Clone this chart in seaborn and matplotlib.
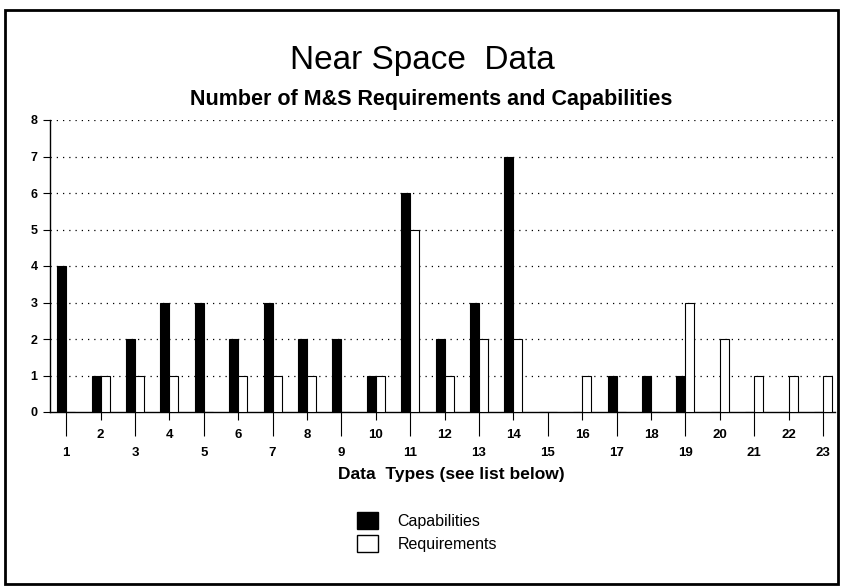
import numpy as np
import pandas as pd
import matplotlib
matplotlib.use("Agg")
import matplotlib.pyplot as plt
from matplotlib.patches import Patch, Rectangle
import seaborn as sns

# Data
data_types = [str(i) for i in range(1, 24)]
capabilities = [4, 1, 2, 3, 3, 2, 3, 2, 2, 1, 6, 2, 3, 7, 0, 0, 1, 1, 1, 0, 0, 0, 0]
requirements = [0, 1, 1, 1, 0, 1, 1, 1, 0, 1, 5, 1, 2, 2, 0, 1, 0, 0, 3, 2, 1, 1, 1]
series_names = ["Capabilities", "Requirements"]
y_ticks = list(range(0, 9))

df = pd.DataFrame({
    "type": data_types * 2,
    "series": [series_names[0]] * len(data_types) + [series_names[1]] * len(data_types),
    "count": capabilities + requirements,
})

sns.set_style("white")
plt.rcParams["font.family"] = ["Liberation Sans", "DejaVu Sans"]
plt.rcParams["text.color"] = "black"
plt.rcParams["xtick.color"] = "black"
plt.rcParams["ytick.color"] = "black"

fig = plt.figure(figsize=(8.44, 5.88), dpi=100)
ax = fig.add_axes([50 / 844, 1 - 412 / 588, 785 / 844, 292 / 588])

sns.barplot(data=df, x="type", y="count", hue="series", hue_order=series_names,
            order=data_types, palette=["black", "white"], edgecolor="black",
            linewidth=0.8, width=0.52, dodge=True, legend=False, ax=ax, zorder=3)

ax.set_ylim(0, 8)
ax.set_xlim(-0.47, 22.35)
ax.set_yticks(y_ticks)
ax.set_yticklabels([str(v) for v in y_ticks], fontsize=9, fontweight="bold")
ax.tick_params(axis="y", length=5, width=0.8, direction="out", left=True, pad=4)

# gridlines, dotted
for v in y_ticks[1:]:
    ax.axhline(v, color="black", linestyle=(0, (1, 4)), linewidth=0.9, zorder=1)

# staggered x tick labels: odd numbers low, even numbers high
pos = np.arange(len(data_types))
ax.set_xticks(pos[::2])
ax.set_xticklabels(data_types[::2], fontsize=9.5, fontweight="bold")
ax.set_xticks(pos[1::2], minor=True)
ax.set_xticklabels(data_types[1::2], minor=True, fontsize=9.5, fontweight="bold")
ax.tick_params(axis="x", which="major", length=17, width=0.8, pad=8, bottom=True)
ax.tick_params(axis="x", which="minor", length=6, width=0.8, pad=6, bottom=True)
ax.set_xlabel("")
ax.set_ylabel("")

for side in ["top", "right"]:
    ax.spines[side].set_visible(False)
for side in ["left", "bottom"]:
    ax.spines[side].set_color("black")
    ax.spines[side].set_linewidth(1.0)

fig.text(422 / 844, 1 - 60 / 588, "Near Space  Data", ha="center", va="center", fontsize=24)
fig.text(431 / 844, 1 - 99 / 588, "Number of M&S Requirements and Capabilities",
         ha="center", va="center", fontsize=15.5, fontweight="bold")
fig.text(451 / 844, 1 - 474 / 588, "Data  Types (see list below)", ha="center",
         va="center", fontsize=12.5, fontweight="bold")

handles = [Patch(facecolor="black", edgecolor="black", label=series_names[0]),
           Patch(facecolor="white", edgecolor="black", label=series_names[1])]
fig.legend(handles=handles, loc="upper left", bbox_to_anchor=(357 / 844, 1 - 512 / 588),
           frameon=False, fontsize=11.5, handlelength=1.3, handleheight=1.3,
           handletextpad=1.25, labelspacing=0.35, borderpad=0, borderaxespad=0)

# outer frame
fig.patches.append(Rectangle((5 / 844, 1 - 584 / 588), 833 / 844, 574 / 588,
                             transform=fig.transFigure, fill=False,
                             edgecolor="black", linewidth=2))

fig.savefig("out.png", dpi=100)
